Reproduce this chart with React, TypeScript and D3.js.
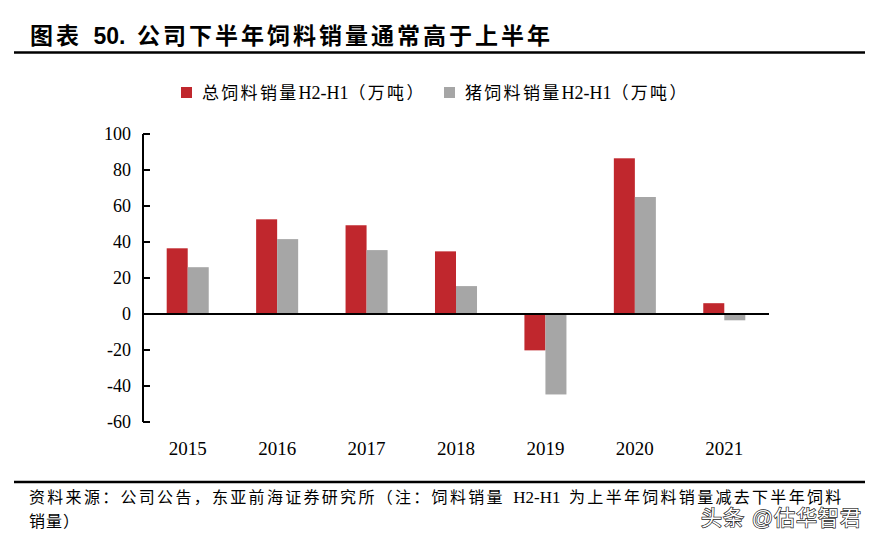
import React from "react";
import * as d3 from "d3";

const years = ["2015", "2016", "2017", "2018", "2019", "2020", "2021"];
const totalFeed = [36.5, 52.6, 49.3, 34.8, -20.2, 86.5, 6.0];
const pigFeed = [26.0, 41.6, 35.5, 15.5, -44.7, 65.0, -3.5];
const yTicks = [100, 80, 60, 40, 20, 0, -20, -40, -60];
const seriesNames = ["总饲料销量H2-H1（万吨）", "猪饲料销量H2-H1（万吨）"];
const seriesColors = ["#C0272D", "#A6A6A6"];

const W = 878;
const H = 542;
const serif = '"Liberation Serif", "Times New Roman", "Noto Sans CJK SC", serif';
const sans = '"Liberation Sans", Arial, "Noto Sans CJK SC", sans-serif';

// Split text into CJK / non-CJK runs so only CJK gets extra tracking
function runs(s: string): { t: string; cjk: boolean }[] {
  const out: { t: string; cjk: boolean }[] = [];
  for (const ch of s) {
    const cjk = /[\u3000-\u9fff\uff00-\uffef]/.test(ch);
    const c = ch === " " ? "\u2002" : ch;
    const last = out[out.length - 1];
    if (last && last.cjk === cjk) last.t += c;
    else out.push({ t: c, cjk });
  }
  return out;
}

function Tracked({ s, spacing, latinSize }: { s: string; spacing: number; latinSize?: number }) {
  return (
    <>
      {runs(s).map((r, i) => (
        <tspan key={i} letterSpacing={r.cjk ? spacing : 0} fontSize={!r.cjk && latinSize ? latinSize : undefined}>{r.t}</tspan>
      ))}
    </>
  );
}

export default function App() {
  const x = d3.scaleBand<string>().domain(years).range([143, 769]).paddingInner(0.53).paddingOuter(0.265);
  const inner = d3.scaleBand<number>().domain([0, 1]).range([0, x.bandwidth()]);
  const y = d3.scaleLinear().domain([-60, 100]).range([422, 134]);
  const series = [totalFeed, pigFeed];

  return (
    <div style={{ position: "absolute", left: 0, top: 0 }}>
      <svg width={W} height={H} style={{ display: "block", background: "#fff" }}>
        {/* Title */}
        <text x={30} y={44} fontFamily={sans} fontWeight="bold" fontSize={23} fill="#000">
          <Tracked s="图表 50. 公司下半年饲料销量通常高于上半年" spacing={3.0} />
        </text>
        <line x1={14} x2={865} y1={52.5} y2={52.5} stroke="#000" strokeWidth={2.5} />

        {/* Legend */}
        {seriesNames.map((n, i) => {
          const sx = [181, 444][i];
          return (
            <g key={n}>
              <rect x={sx} y={87} width={11} height={11} fill={seriesColors[i]} />
              <text x={sx + 21} y={99} fontFamily={serif} fontSize={17} fill="#000">
                <Tracked s={n} spacing={2.3} latinSize={18} />
              </text>
            </g>
          );
        })}

        {/* Bars */}
        {series.map((vals, si) =>
          vals.map((v, i) => (
            <rect key={`${si}-${i}`}
              x={(x(years[i]) as number) + (inner(si) as number)}
              y={y(Math.max(0, v))}
              width={inner.bandwidth()}
              height={Math.abs(y(v) - y(0))}
              fill={seriesColors[si]} />
          ))
        )}

        {/* Y axis */}
        <line x1={143} x2={143} y1={y(100)} y2={y(-60)} stroke="#000" strokeWidth={2} />
        {yTicks.map((t) => (
          <g key={t}>
            <line x1={143} x2={150} y1={y(t)} y2={y(t)} stroke="#000" strokeWidth={2} />
            <text x={131} y={y(t)} dy="0.35em" textAnchor="end" fontFamily={serif} fontSize={18} fill="#000">{t}</text>
          </g>
        ))}
        {/* Zero line */}
        <line x1={143} x2={769} y1={y(0)} y2={y(0)} stroke="#000" strokeWidth={2} />

        {/* X labels */}
        {years.map((yr) => (
          <text key={yr} x={(x(yr) as number) + x.bandwidth() / 2} y={455} textAnchor="middle"
            fontFamily={serif} fontSize={19} fill="#000">{yr}</text>
        ))}

        {/* Footer */}
        <line x1={14} x2={865} y1={482} y2={482} stroke="#000" strokeWidth={2.5} />
        <text x={29} y={503} fontFamily={serif} fontSize={16} fill="#000">
          <Tracked s="资料来源：公司公告，东亚前海证券研究所（注：饲料销量 H2-H1 为上半年饲料销量减去下半年饲料" spacing={2.3} latinSize={17} />
        </text>
        <text x={29} y={527} fontFamily={serif} fontSize={16} fill="#000">
          <Tracked s="销量）" spacing={1} />
        </text>

        {/* Watermark */}
        <text x={701} y={525} fontFamily={sans} fontSize={21} fill="#fff" stroke="#222" strokeWidth={1.4}
          paintOrder="stroke" textLength={160} lengthAdjust="spacing">{"头条\u00A0@估华智君"}</text>
      </svg>
    </div>
  );
}
